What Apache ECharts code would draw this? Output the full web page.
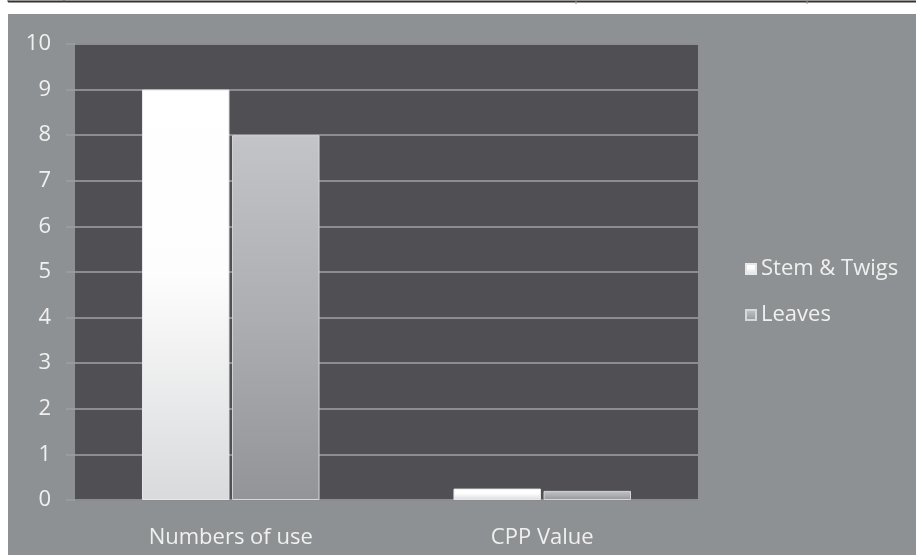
<!DOCTYPE html>
<html><head><meta charset="utf-8">
<script src="https://cdn.jsdelivr.net/npm/echarts@6/dist/echarts.min.js"></script>
<style>html,body{margin:0;padding:0;background:#fff}#c{width:916px;height:555px}</style>
</head><body><div id="c"></div>
<script>
var categories = ['Numbers of use', 'CPP Value'];
var stemTwigs = [9, 0.25];
var leaves = [8, 0.2];
var seriesNames = ['Stem & Twigs', 'Leaves'];
var yMin = 0, yMax = 10, yInterval = 1;

var chart = echarts.init(document.getElementById('c'), null, {renderer: 'canvas'});
var FONT = 'Open Sans';
var txt = '#f0f0f0';
function grad(stops) {
  return new echarts.graphic.LinearGradient(0, 0, 0, 1, stops);
}
var stemColor = grad([{offset: 0, color: '#ffffff'}, {offset: 0.45, color: '#fdfdfd'}, {offset: 1, color: '#d9dadc'}]);
var leafColor = grad([{offset: 0, color: '#c3c4c7'}, {offset: 0.5, color: '#acaeb1'}, {offset: 1, color: '#929498'}]);

chart.setOption({
  backgroundColor: '#ffffff',
  animation: false,
  graphic: [
    {type: 'rect', shape: {x: 8, y: 14, width: 908, height: 541}, style: {fill: '#8e9193'}, z: -10},
    {type: 'rect', shape: {x: 75, y: 44, width: 623, height: 456}, style: {fill: '#504f54'}, z: -5},
    {type: 'line', shape: {x1: 8, y1: 1.5, x2: 916, y2: 1.5}, style: {stroke: '#333', lineWidth: 2}},
    {type: 'line', shape: {x1: 8, y1: 0, x2: 8, y2: 2}, style: {stroke: '#555', lineWidth: 1}},
    {type: 'line', shape: {x1: 64, y1: 0, x2: 64, y2: 2}, style: {stroke: '#555', lineWidth: 1}},
    {type: 'line', shape: {x1: 576, y1: 0, x2: 576, y2: 4}, style: {stroke: '#999', lineWidth: 1}},
    {type: 'line', shape: {x1: 807, y1: 0, x2: 807, y2: 4}, style: {stroke: '#999', lineWidth: 1}}
  ],
  grid: {left: 75, right: 218, top: 44, bottom: 55, containLabel: false},
  legend: {
    orient: 'vertical', left: 740, top: 253,
    itemWidth: 10, itemHeight: 10, itemGap: 24,
    icon: 'rect',
    textStyle: {color: txt, fontFamily: FONT, fontSize: 22},
    data: seriesNames
  },
  xAxis: {
    type: 'category', data: categories,
    axisLine: {show: true, lineStyle: {color: '#8a8b8e', width: 1}},
    axisTick: {show: false},
    axisLabel: {color: txt, fontFamily: FONT, fontSize: 22, margin: 27}
  },
  yAxis: {
    type: 'value', min: yMin, max: yMax, interval: yInterval,
    axisLine: {show: false},
    axisTick: {show: true, length: 9, lineStyle: {color: '#9a9b9e', width: 2}},
    axisLabel: {color: txt, fontFamily: FONT, fontSize: 22, margin: 24},
    splitLine: {show: true, lineStyle: {color: '#8d8d90', width: 2}}
  },
  series: [
    {name: seriesNames[0], type: 'bar', data: stemTwigs, barGap: '3%', barCategoryGap: '43%',
     itemStyle: {color: stemColor, borderColor: '#e8e8ea', borderWidth: 1}},
    {name: seriesNames[1], type: 'bar', data: leaves,
     itemStyle: {color: leafColor, borderColor: '#d6d7d9', borderWidth: 1}}
  ]
});
</script></body></html>
